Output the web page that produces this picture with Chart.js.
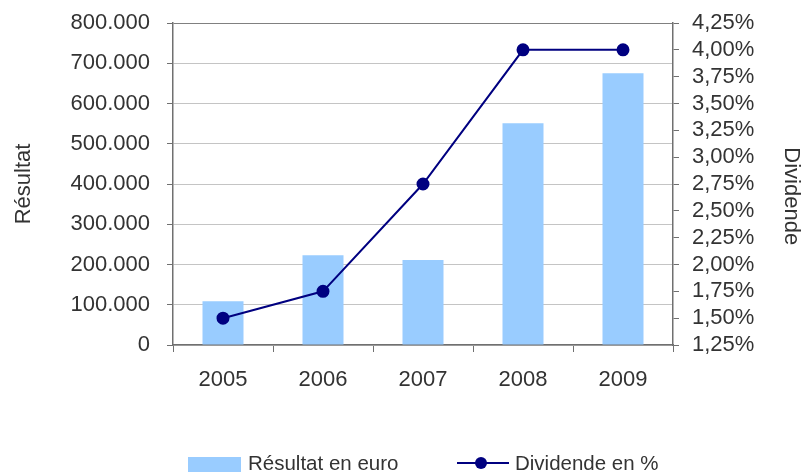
<!DOCTYPE html>
<html>
<head>
<meta charset="utf-8">
<script src="https://cdn.jsdelivr.net/npm/chart.js@4"></script>
<style>
  body { margin: 0; background: #fff; }
  #wrap { position: relative; width: 804px; height: 472px; }
  .lg { position: absolute; font: 20.5px "Liberation Sans", Arial, sans-serif; color: #333; line-height: 24px; }
</style>
</head>
<body>
<div id="wrap">
  <canvas id="myChart" width="804" height="472"></canvas>
  <div id="sw1" style="position:absolute;left:188px;top:457px;width:53px;height:15px;"></div>
  <div class="lg" style="left:248px;top:451px;">Résultat en euro</div>
  <div id="ln2" style="position:absolute;left:457px;top:462px;width:52px;height:2px;"></div>
  <div id="pt2" style="position:absolute;left:475px;top:457px;width:12px;height:12px;border-radius:50%;"></div>
  <div class="lg" style="left:515px;top:451px;">Dividende en %</div>
</div>
<script>
// data
var years = ['2005', '2006', '2007', '2008', '2009'];
var resultat = [109000, 223000, 211000, 551000, 675000];
var dividende = [1.50, 1.75, 2.75, 4.00, 4.00];

var barColor = '#99ccff';
var lineColor = '#000080';
var textColor = '#333333';
var font = { family: '"Liberation Sans", Arial, sans-serif', size: 22 };

document.getElementById('sw1').style.background = barColor;
document.getElementById('ln2').style.background = lineColor;
document.getElementById('pt2').style.background = lineColor;

Chart.defaults.color = textColor;
Chart.defaults.font = font;

// fixed box sizes so the plot area sits where it does in the picture
function fixWidth(w) {
    return function (s) { s.width = w; s.paddingTop = 0; s.paddingBottom = 0; };
}

var ctx = document.getElementById('myChart').getContext('2d');
var chart = new Chart(ctx, {
    type: 'bar',
    data: {
        labels: years,
        datasets: [
        {
            type: 'line',
            label: 'Dividende en %',
            data: dividende,
            yAxisID: 'y2',
            borderColor: lineColor,
            backgroundColor: lineColor,
            borderWidth: 2,
            pointRadius: 5.5,
            pointHoverRadius: 5.5,
            tension: 0,
            order: 0
        },
        {
            label: 'Résultat en euro',
            data: resultat,
            yAxisID: 'y',
            backgroundColor: barColor,
            barPercentage: 0.41,
            categoryPercentage: 1,
            order: 1
        }
      ]
    },
    options: {
        responsive: false,
        animation: false,
        layout: { padding: { top: 23, right: 0, bottom: 0, left: 0 } },
        plugins: {
            legend: { display: false },
            tooltip: { enabled: false }
        },
        scales: {
            x: {
                offset: true,
                grid: { offset: true, drawOnChartArea: false, drawTicks: true, tickLength: 7, color: '#707070' },
                border: { color: '#707070', width: 1.5 },
                ticks: { padding: 15, color: textColor },
                afterFit: function (s) { s.height = 127; s.paddingLeft = 0; s.paddingRight = 0; }
            },
            y: {
                position: 'left',
                min: 0,
                max: 800000,
                ticks: {
                    stepSize: 100000,
                    padding: 17,
                    autoSkip: false,
                    color: textColor,
                    callback: function (v) { return v.toString().replace(/\B(?=(\d{3})+(?!\d))/g, '.'); }
                },
                grid: {
                    tickLength: 6,
                    color: function (c) { return c.index === 8 ? '#808080' : '#c4c4c4'; },
                    tickColor: '#707070'
                },
                border: { color: '#707070', width: 1.5 },
                title: { display: true, text: 'Résultat', padding: { top: 11, bottom: 0 }, color: textColor },
                afterFit: fixWidth(173)
            },
            y2: {
                position: 'right',
                min: 1.25,
                max: 4.25,
                ticks: {
                    stepSize: 0.25,
                    padding: 13,
                    autoSkip: false,
                    color: textColor,
                    callback: function (v) { return v.toFixed(2).replace('.', ',') + '%'; }
                },
                grid: { drawOnChartArea: false, tickLength: 6, color: '#707070' },
                border: { color: '#707070', width: 1.5 },
                title: { display: true, text: '\u00a0\u00a0\u00a0\u00a0Dividende', padding: { top: 0, bottom: 0 }, color: textColor },
                afterFit: fixWidth(131)
            }
        }
    }
});
</script>
</body>
</html>
